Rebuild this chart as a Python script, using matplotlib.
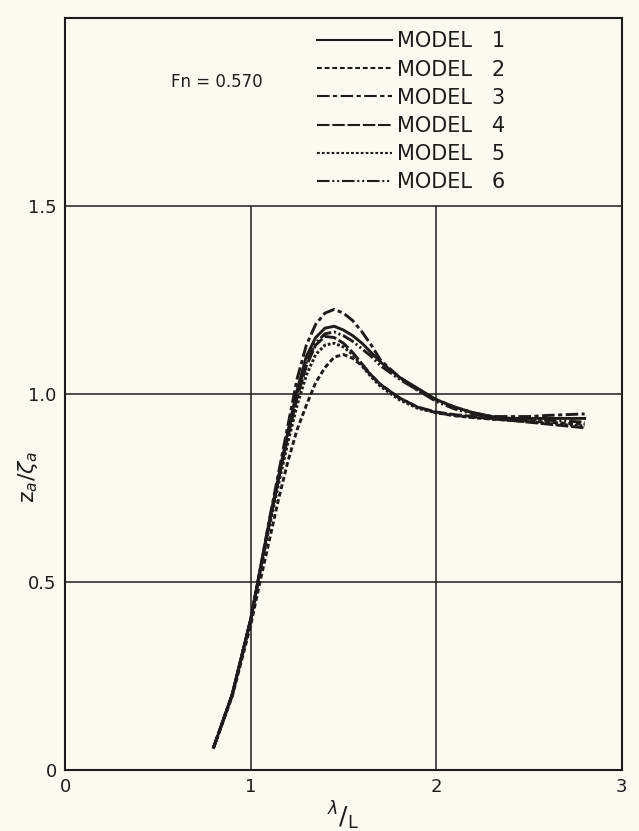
import matplotlib
matplotlib.use("Agg")
import matplotlib.pyplot as plt
from matplotlib.lines import Line2D

# --- data (Fn = 0.570) ---
x_lam = [0.80, 0.90, 1.00, 1.05, 1.10, 1.15, 1.20, 1.25, 1.30, 1.35, 1.40,
         1.45, 1.50, 1.55, 1.60, 1.65, 1.70, 1.80, 1.90, 2.00, 2.10, 2.20,
         2.30, 2.40, 2.50, 2.60, 2.70, 2.80]

model_1 = [0.06, 0.20, 0.40, 0.53, 0.66, 0.78, 0.90, 1.01, 1.10, 1.15, 1.175,
           1.18, 1.17, 1.155, 1.135, 1.11, 1.085, 1.045, 1.015, 0.985, 0.965, 0.95,
           0.94, 0.935, 0.935, 0.935, 0.935, 0.935]
model_2 = [0.06, 0.195, 0.385, 0.50, 0.61, 0.72, 0.82, 0.905, 0.97, 1.03, 1.07,
           1.098, 1.105, 1.095, 1.075, 1.05, 1.025, 0.99, 0.965, 0.95, 0.942, 0.937,
           0.933, 0.93, 0.928, 0.925, 0.922, 0.92]
model_3 = [0.06, 0.20, 0.40, 0.53, 0.665, 0.79, 0.915, 1.04, 1.13, 1.185, 1.215,
           1.225, 1.215, 1.195, 1.165, 1.13, 1.09, 1.045, 1.01, 0.985, 0.965, 0.95,
           0.94, 0.94, 0.94, 0.943, 0.945, 0.947]
model_4 = [0.06, 0.20, 0.40, 0.53, 0.655, 0.775, 0.885, 0.99, 1.075, 1.13, 1.153,
           1.15, 1.135, 1.11, 1.08, 1.05, 1.025, 0.99, 0.965, 0.952, 0.945, 0.94,
           0.935, 0.93, 0.925, 0.92, 0.915, 0.91]
model_5 = [0.06, 0.20, 0.40, 0.525, 0.645, 0.76, 0.87, 0.97, 1.05, 1.105, 1.13,
           1.135, 1.125, 1.105, 1.075, 1.045, 1.02, 0.985, 0.962, 0.95, 0.943, 0.938,
           0.934, 0.93, 0.926, 0.922, 0.918, 0.915]
model_6 = [0.06, 0.20, 0.40, 0.53, 0.655, 0.775, 0.89, 1.00, 1.085, 1.135, 1.16,
           1.165, 1.155, 1.14, 1.12, 1.10, 1.075, 1.04, 1.01, 0.98, 0.96, 0.947,
           0.938, 0.935, 0.933, 0.93, 0.928, 0.925]

models = [model_1, model_2, model_3, model_4, model_5, model_6]
labels = ["MODEL   1", "MODEL   2", "MODEL   3", "MODEL   4", "MODEL   5", "MODEL   6"]

x_ticks = [0, 1, 2, 3]
x_ticklabels = ["0", "1", "2", "3"]
y_ticks = [0, 0.5, 1.0, 1.5]
y_ticklabels = ["0", "0.5", "1.0", "1.5"]

# --- styling ---
plt.rcParams['font.family'] = ['DejaVu Sans']
plt.rcParams['lines.scale_dashes'] = False

INK = '#1e1c1a'
PAPER = '#fbfaf1'
styles = [
    '-',
    (0, (3.5, 2.0)),
    (0, (9, 2.5, 3, 2.5)),
    (0, (9, 2.0)),
    (0, (2.0, 1.5)),
    (0, (9, 2, 1.5, 2, 1.5, 2)),
]

fig = plt.figure(figsize=(6.39, 8.31), dpi=100, facecolor=PAPER)
ax = fig.add_axes([0.102, 0.0734, 0.871, 0.905])
ax.set_facecolor(PAPER)

# grid: horizontal lines across, vertical lines only up to 1.5
for yv in [0.5, 1.0, 1.5]:
    ax.axhline(yv, color=INK, lw=1.1, zorder=1)
ax.vlines([1, 2], 0, 1.5, color=INK, lw=1.1, zorder=1)

for vals, ls in zip(models, styles):
    ax.plot(x_lam, vals, color=INK, lw=2.1, linestyle=ls, zorder=3)

ax.set_xlim(0, 3)
ax.set_ylim(0, 2.0)
ax.set_xticks(x_ticks)
ax.set_xticklabels(x_ticklabels)
ax.set_yticks(y_ticks)
ax.set_yticklabels(y_ticklabels)
ax.tick_params(length=0, labelsize=13, colors=INK, pad=6)
for s in ax.spines.values():
    s.set_color(INK)
    s.set_linewidth(1.5)

ax.set_xlabel(r'$^{\lambda}$/$_{\mathrm{L}}$', fontsize=18, color=INK, labelpad=2)
ax.set_ylabel(r'z$_a$/$\zeta_a$', fontsize=16, color=INK)
ax.yaxis.set_label_coords(-0.045, 0.39)

ax.text(0.57, 1.83, "Fn = 0.570", fontsize=12, color=INK, ha='left', va='center')

handles = [Line2D([], [], color=INK, lw=1.5, linestyle=ls) for ls in styles]
leg = ax.legend(handles, labels, loc='upper right', bbox_to_anchor=(0.79, 0.982),
                frameon=False, fontsize=15, handlelength=3.6, handletextpad=0.24,
                labelspacing=0.39, borderpad=0, borderaxespad=0)
for t in leg.get_texts():
    t.set_color(INK)

fig.savefig("out.png", dpi=100, facecolor=PAPER)
